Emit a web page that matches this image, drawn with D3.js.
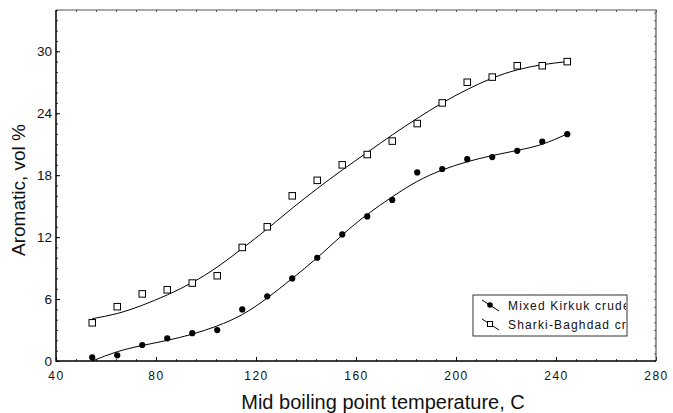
<!DOCTYPE html>
<html>
<head>
<meta charset="utf-8">
<script src="https://cdn.jsdelivr.net/npm/d3@7"></script>
<style>
  body { margin: 0; background: #fff; }
  svg { display: block; font-family: "Liberation Sans", Arial, sans-serif; }
</style>
</head>
<body>
<div id="chart"></div>
<script>
const width = 673;
const height = 413;

// Mid boiling point temperature, C
const temps = [54.5, 64.5, 74.5, 84.5, 94.5, 104.5, 114.5, 124.5, 134.5, 144.5,
               154.5, 164.5, 174.5, 184.5, 194.5, 204.5, 214.5, 224.5, 234.5, 244.5];

// measured aromatic content, vol %
const kirkuk = [0.35, 0.55, 1.55, 2.2, 2.7, 3.0, 5.0, 6.26, 8.0, 10.0,
                12.26, 14.0, 15.6, 18.27, 18.6, 19.55, 19.75, 20.36, 21.26, 21.97];
const sharki = [3.7, 5.26, 6.5, 6.9, 7.55, 8.26, 11.0, 13.0, 16.0, 17.5,
                19.0, 20.0, 21.3, 23.0, 25.0, 27.0, 27.5, 28.6, 28.6, 29.0];

// fitted curves at the same temperatures
const kirkukFit = [0.0, 0.9, 1.5, 2.0, 2.6, 3.4, 4.5, 6.1, 8.0, 10.0,
                   12.2, 14.2, 15.9, 17.4, 18.5, 19.3, 19.9, 20.4, 21.0, 22.0];
const sharkiFit = [4.1, 4.6, 5.4, 6.4, 7.6, 9.1, 10.9, 12.8, 14.8, 16.7,
                   18.5, 20.2, 21.9, 23.5, 25.0, 26.3, 27.4, 28.2, 28.7, 29.0];

const xTicks = [40, 80, 120, 160, 200, 240, 280];
const yTicks = [0, 6, 12, 18, 24, 30];
const legendLabels = ["Mixed Kirkuk crude", "Sharki-Baghdad crude"];

const margin = { left: 56, right: 17, top: 10, bottom: 52 };

const x = d3.scaleLinear().domain([40, 280]).range([margin.left, width - margin.right]);
const y = d3.scaleLinear().domain([0, 34]).range([height - margin.bottom, margin.top]);

const svg = d3.select("#chart").append("svg")
    .attr("width", width)
    .attr("height", height);

// axes with inward ticks
const xMinor = d3.range(40, 281, 8);
const yMinor = d3.range(0, 35, 1);
const yMinorRight = d3.range(0, 34.01, 0.75);

svg.append("g")
    .attr("transform", `translate(0,${y(0)})`)
    .call(d3.axisBottom(x).tickValues(xMinor).tickSize(-2).tickFormat(""))
    .call(g => g.select(".domain").remove())
    .call(g => g.selectAll("line").attr("stroke", "#333"));

svg.append("g")
    .attr("transform", `translate(0,${y(0)})`)
    .call(d3.axisBottom(x).tickValues(xTicks).tickSize(-4).tickPadding(10))
    .call(g => g.select(".domain").remove())
    .call(g => g.selectAll("text")
        .style("font-size", "12px")
        .style("font-family", "Liberation Sans, Arial, sans-serif")
        .attr("letter-spacing", "1.5px")
        .attr("fill", "#111"));

svg.append("g")
    .attr("transform", `translate(0,${y(34)})`)
    .call(d3.axisTop(x).tickValues(xMinor).tickSize(-2).tickFormat(""))
    .call(g => g.select(".domain").remove())
    .call(g => g.selectAll("line").attr("stroke", "#555"));

svg.append("g")
    .attr("transform", `translate(${x(40)},0)`)
    .call(d3.axisLeft(y).tickValues(yMinor).tickSize(-2).tickFormat(""))
    .call(g => g.select(".domain").remove())
    .call(g => g.selectAll("line").attr("stroke", "#333"));

svg.append("g")
    .attr("transform", `translate(${x(40)},0)`)
    .call(d3.axisLeft(y).tickValues(yTicks).tickSize(-4).tickPadding(4))
    .call(g => g.select(".domain").remove())
    .call(g => g.selectAll("text")
        .style("font-size", "13.5px")
        .style("font-family", "Liberation Sans, Arial, sans-serif")
        .attr("fill", "#111"));

svg.append("g")
    .attr("transform", `translate(${x(280)},0)`)
    .call(d3.axisRight(y).tickValues(yMinorRight).tickSize(-2).tickFormat(""))
    .call(g => g.select(".domain").remove())
    .call(g => g.selectAll("line").attr("stroke", "#666"));

// frame
svg.append("path")
    .attr("d", `M${x(40)},${y(34)}H${x(280)}V${y(0)}`)
    .attr("fill", "none")
    .attr("stroke", "#555")
    .attr("stroke-width", 1.2);
svg.append("path")
    .attr("d", `M${x(40)},${y(34)}V${y(0)}H${x(280)}`)
    .attr("fill", "none")
    .attr("stroke", "#000")
    .attr("stroke-width", 1.5);

// axis titles
svg.append("text")
    .attr("x", 383)
    .attr("y", 409)
    .attr("text-anchor", "middle")
    .attr("font-size", 20)
    .attr("fill", "#111")
    .text("Mid boiling point temperature, C");

svg.append("text")
    .attr("transform", `translate(25,${190}) rotate(-90)`)
    .attr("text-anchor", "middle")
    .attr("font-size", 19)
    .attr("fill", "#111")
    .text("Aromatic, vol %");

// fitted curves
const line = d3.line()
    .x((d, i) => x(temps[i]))
    .y(d => y(d))
    .curve(d3.curveNatural);

svg.append("path")
    .datum(sharkiFit)
    .attr("d", line)
    .attr("fill", "none")
    .attr("stroke", "#000")
    .attr("stroke-width", 1);

svg.append("path")
    .datum(kirkukFit)
    .attr("d", line)
    .attr("fill", "none")
    .attr("stroke", "#000")
    .attr("stroke-width", 1);

// markers
svg.append("g")
    .selectAll("rect")
    .data(sharki)
    .join("rect")
    .attr("x", (d, i) => x(temps[i]) - 3.25)
    .attr("y", d => y(d) - 3.25)
    .attr("width", 6.5)
    .attr("height", 6.5)
    .attr("fill", "#fff")
    .attr("stroke", "#000")
    .attr("stroke-width", 1);

svg.append("g")
    .selectAll("circle")
    .data(kirkuk)
    .join("circle")
    .attr("cx", (d, i) => x(temps[i]))
    .attr("cy", d => y(d))
    .attr("r", 3.1)
    .attr("fill", "#000");

// legend, text is cut off by the box
const lx = 473, ly = 295, lw = 154, lh = 41;
svg.append("clipPath")
    .attr("id", "legclip")
    .append("rect")
    .attr("x", lx).attr("y", ly).attr("width", lw - 1).attr("height", lh);

const legend = svg.append("g");
legend.append("rect")
    .attr("x", lx).attr("y", ly).attr("width", lw).attr("height", lh)
    .attr("fill", "#fff")
    .attr("stroke", "#333")
    .attr("stroke-width", 1);

const rows = legend.append("g")
    .attr("clip-path", "url(#legclip)")
    .selectAll("g.row")
    .data(legendLabels)
    .join("g")
    .attr("class", "row");

rows.append("line")
    .attr("x1", 482).attr("y1", (d, i) => ly + 5 + i * 19)
    .attr("x2", 499).attr("y2", (d, i) => ly + 16 + i * 19)
    .attr("stroke", "#000")
    .attr("stroke-width", 1);

rows.filter((d, i) => i === 0).append("circle")
    .attr("cx", 490).attr("cy", ly + 10).attr("r", 2.8).attr("fill", "#000");
rows.filter((d, i) => i === 1).append("rect")
    .attr("x", 487.5).attr("y", ly + 26.5).attr("width", 5).attr("height", 5)
    .attr("fill", "#fff").attr("stroke", "#000");

rows.append("text")
    .attr("x", 508)
    .attr("y", (d, i) => ly + 15 + i * 19)
    .attr("font-size", 12)
    .attr("letter-spacing", "1.15px")
    .attr("fill", "#111")
    .text(d => d);
</script>
</body>
</html>
